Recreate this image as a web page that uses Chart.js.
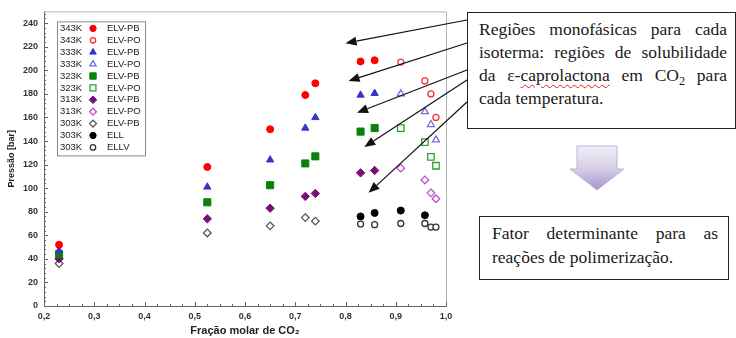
<!DOCTYPE html>
<html lang="pt">
<head>
<meta charset="utf-8">
<script src="https://cdn.jsdelivr.net/npm/chart.js@4.4.1/dist/chart.umd.min.js"></script>
<style>
body { margin: 0; background: #fff; }
#wrap { position: relative; width: 736px; height: 338px; overflow: hidden; }
#wrap canvas { position: absolute; left: 0; top: 0; }
.note { position: absolute; box-sizing: border-box; background: #fff; border: 1.5px solid #222;
  font-family: "Liberation Serif", "DejaVu Serif", serif; font-size: 17.5px; color: #1a1a1a; }
.note div { text-align: justify; text-align-last: justify; }
.note div.last { text-align: left; text-align-last: left; }
#note1 { left: 467px; top: 12px; width: 269px; height: 117px; padding: 5px 8px 0 11px; line-height: 23px; }
#note2 { left: 479px; top: 216px; width: 250px; height: 64px; padding: 4px 10px 0 12px; line-height: 24px; }
.typo { text-decoration: underline wavy #e02020; text-decoration-thickness: 1px; text-underline-offset: 3px; }
sub { font-size: 0.7em; line-height: 0; vertical-align: -0.3em; }
#down { position: absolute; left: 566px; top: 144px; }
</style>
</head>
<body>
<div id="wrap">
  <canvas id="myChart" width="736" height="338"></canvas>
  <div class="note" id="note1">
    <div>Regiões monofásicas para cada</div>
    <div>isoterma: regiões de solubilidade</div>
    <div>da ε-<span class="typo">caprolactona</span> em CO<sub>2</sub> para</div>
    <div class="last">cada temperatura.</div>
  </div>
  <svg id="down" width="62" height="50">
    <defs>
      <linearGradient id="lav" x1="0" y1="0" x2="0" y2="1">
        <stop offset="0" stop-color="#f3eff8"/>
        <stop offset="0.55" stop-color="#d3cbe6"/>
        <stop offset="1" stop-color="#a396c6"/>
      </linearGradient>
    </defs>
    <polygon points="11,2 51,2 51,25 58,25 31,46 4,25 11,25" fill="url(#lav)" stroke="#bdb3d8" stroke-width="1"/>
  </svg>
  <div class="note" id="note2">
    <div>Fator determinante para as</div>
    <div class="last">reações de polimerização.</div>
  </div>
</div>

<script>
'use strict'

// axis ticks
var pressaoTicks = [0, 20, 40, 60, 80, 100, 120, 140, 160, 180, 200, 220, 240];
var fracaoTicks = [0.2, 0.3, 0.4, 0.5, 0.6, 0.7, 0.8, 0.9, 1.0];

// legend text
var temps = ['343K', '343K', '333K', '333K', '323K', '323K', '313K', '313K', '303K', '303K', '303K'];
var tipos = ['ELV-PB', 'ELV-PO', 'ELV-PB', 'ELV-PO', 'ELV-PB', 'ELV-PO', 'ELV-PB', 'ELV-PO', 'ELV-PB', 'ELL', 'ELLV'];

// fracao molar de CO2
var xPB = [0.23, 0.525, 0.65, 0.72, 0.74, 0.83, 0.858];
var xPO = [0.91, 0.958, 0.97, 0.98];
var x303PB = [0.23, 0.525, 0.65, 0.72, 0.74];
var x303ELL = [0.83, 0.858, 0.91, 0.958];
var x303ELLV = [0.83, 0.858, 0.91, 0.958, 0.97, 0.98];

// pressao [bar]
var p343PB = [52, 118, 150, 179, 189, 207.5, 208.5];
var p343PO = [207, 191, 180, 160];
var p333PB = [47, 101, 124, 151, 160, 179, 180.5];
var p333PO = [180, 165, 154, 141];
var p323PB = [44, 88, 102.5, 121, 127, 148, 151];
var p323PO = [151, 139, 126.5, 119];
var p313PB = [40, 74, 83, 93, 95.5, 113, 115];
var p313PO = [117, 107, 96, 91];
var p303PB = [36, 62, 68, 75, 72];
var p303ELL = [76, 79, 81, 77];
var p303ELLV = [69.5, 69, 70, 70, 67, 67];

// arrow tips (data units)
var setaX = [0.800, 0.806, 0.823, 0.8375, 0.846];
var setaY = [223, 191, 164, 135, 96];

var xs = [xPB, xPO, xPB, xPO, xPB, xPO, xPB, xPO, x303PB, x303ELL, x303ELLV];
var ys = [p343PB, p343PO, p333PB, p333PO, p323PB, p323PO, p313PB, p313PO, p303PB, p303ELL, p303ELLV];

var estilos = [
  {color: '#ff0000', style: 'circle', fill: true, r: 3.5},
  {color: '#ff3030', style: 'circle', fill: false, r: 3},
  {color: '#3535c8', style: 'triangle', fill: true, r: 4.2},
  {color: '#6f6fd8', style: 'triangle', fill: false, r: 4},
  {color: '#0a820a', style: 'rect', fill: true, r: 5},
  {color: '#2ea02e', style: 'rect', fill: false, r: 4.6},
  {color: '#7a0f7a', style: 'rectRot', fill: true, r: 4.2},
  {color: '#c050c8', style: 'rectRot', fill: false, r: 3.8},
  {color: '#555555', style: 'rectRot', fill: false, r: 3.8},
  {color: '#000000', style: 'circle', fill: true, r: 3.5},
  {color: '#333333', style: 'circle', fill: false, r: 3}
];

function pts(xv, yv) {
  return xv.map(function(x, i) { return {x: x, y: yv[i]}; });
}

var datasets = estilos.map(function(s, i) {
  return {
    label: temps[i] + ' ' + tipos[i],
    data: pts(xs[i], ys[i]),
    showLine: false,
    pointStyle: s.style,
    pointRadius: s.r,
    pointHoverRadius: s.r,
    pointBackgroundColor: s.fill ? s.color : '#ffffff',
    pointBorderColor: s.color,
    pointBorderWidth: s.fill ? 1 : 1.3
  };
});

function marcador(ctx, s, x, y) {
  ctx.fillStyle = s.fill ? s.color : '#ffffff';
  ctx.strokeStyle = s.color;
  ctx.lineWidth = s.fill ? 1 : 1.3;
  if (Chart.helpers && Chart.helpers.drawPoint) {
    Chart.helpers.drawPoint(ctx, {pointStyle: s.style, radius: s.r * 0.9, rotation: 0, borderWidth: ctx.lineWidth}, x, y);
  } else {
    ctx.beginPath(); ctx.arc(x, y, s.r, 0, Math.PI * 2); ctx.fill(); ctx.stroke();
  }
}

var decor = {
  id: 'decor',
  beforeDatasetsDraw: function(chart) {
    var ctx = chart.ctx, a = chart.chartArea, sx = chart.scales.x, sy = chart.scales.y;
    ctx.save();
    ctx.strokeStyle = '#b4b4b4';
    ctx.lineWidth = 1;
    ctx.beginPath();
    ctx.moveTo(a.left, a.top + 0.5);
    ctx.lineTo(a.right + 0.5, a.top + 0.5);
    ctx.lineTo(a.right + 0.5, a.bottom);
    ctx.stroke();

    // small inside ticks
    ctx.strokeStyle = '#666';
    ctx.beginPath();
    for (var v = 0; v <= 248; v += 4) {
      var py = Math.round(sy.getPixelForValue(v)) + 0.5;
      ctx.moveTo(a.left, py);
      ctx.lineTo(a.left + (v % 20 === 0 ? 4 : 2), py);
    }
    for (var k = 0; k <= 32; k++) {
      var px = Math.round(sx.getPixelForValue(0.2 + k * 0.025)) + 0.5;
      ctx.moveTo(px, a.bottom);
      ctx.lineTo(px, a.bottom - (k % 4 === 0 ? 4 : 2));
    }
    ctx.stroke();
    ctx.restore();
  },
  afterDatasetsDraw: function(chart) {
    var ctx = chart.ctx, a = chart.chartArea;
    var left = a.left + 13, top = a.top + 10;
    ctx.save();
    ctx.fillStyle = '#fff';
    ctx.fillRect(left, top, 88, 134);
    ctx.strokeStyle = '#8a8a8a';
    ctx.lineWidth = 1;
    ctx.strokeRect(left + 0.5, top + 0.5, 88, 134);
    ctx.font = '9.5px "Liberation Sans", Arial, sans-serif';
    ctx.textBaseline = 'middle';
    for (var i = 0; i < temps.length; i++) {
      var y = top + 7 + i * 11.9;
      ctx.fillStyle = '#222';
      ctx.fillText(temps[i], left + 3, y);
      ctx.fillText(tipos[i], left + 50, y);
      marcador(ctx, estilos[i], left + 36, y);
    }
    ctx.restore();
  },
  afterDraw: function(chart) {
    var ctx = chart.ctx, sx = chart.scales.x, sy = chart.scales.y;
    var startY = [20, 43, 70, 80, 102];
    ctx.save();
    ctx.strokeStyle = '#111';
    ctx.fillStyle = '#111';
    ctx.lineWidth = 1.2;
    for (var i = 0; i < setaX.length; i++) {
      var x0 = 467, y0 = startY[i];
      var x1 = sx.getPixelForValue(setaX[i]), y1 = sy.getPixelForValue(setaY[i]);
      var ang = Math.atan2(y1 - y0, x1 - x0);
      var bx = x1 - 11 * Math.cos(ang), by = y1 - 11 * Math.sin(ang);
      ctx.beginPath();
      ctx.moveTo(x0, y0);
      ctx.lineTo(bx, by);
      ctx.stroke();
      ctx.beginPath();
      ctx.moveTo(x1, y1);
      ctx.lineTo(bx + 4.5 * Math.sin(ang), by - 4.5 * Math.cos(ang));
      ctx.lineTo(bx - 4.5 * Math.sin(ang), by + 4.5 * Math.cos(ang));
      ctx.closePath();
      ctx.fill();
    }
    ctx.restore();
  }
};

Chart.defaults.font.family = '"Liberation Sans", Arial, sans-serif';

var ctx = document.getElementById('myChart');

var scatter = new Chart(ctx, {
  type: 'scatter',
  data: { datasets: datasets },
  plugins: [decor],
  options: {
    responsive: false,
    animation: false,
    layout: { padding: { top: 11, right: 290, left: 0, bottom: 0 } },
    plugins: { legend: { display: false }, tooltip: { enabled: false } },
    scales: {
      x: {
        type: 'linear',
        min: 0.2,
        max: 1.0,
        afterBuildTicks: function(scale) {
          scale.ticks = fracaoTicks.map(function(v) { return {value: v}; });
        },
        afterFit: function(scale) { scale.height = 32; },
        grid: { drawOnChartArea: false, drawTicks: false },
        border: { display: true, color: '#666', width: 1 },
        ticks: {
          padding: 5,
          color: '#333',
          maxRotation: 0,
          autoSkip: false,
          font: { size: 9, weight: 'bold' },
          callback: function(v) { return v.toFixed(1).replace('.', ','); }
        },
        title: {
          display: true,
          text: 'Fração molar de CO₂',
          color: '#222',
          padding: 0,
          font: { size: 11, weight: 'bold' }
        }
      },
      y: {
        min: 0,
        max: 250,
        afterBuildTicks: function(scale) {
          scale.ticks = pressaoTicks.map(function(v) { return {value: v}; });
        },
        afterFit: function(scale) { scale.width = 44; },
        grid: { drawOnChartArea: false, drawTicks: false },
        border: { display: true, color: '#666', width: 1 },
        ticks: {
          padding: 6,
          color: '#333',
          autoSkip: false,
          font: { size: 9, weight: 'bold' }
        },
        title: {
          display: true,
          text: 'Pressão [bar]',
          color: '#222',
          padding: { top: 6, bottom: 0 },
          font: { size: 9, weight: 'bold' }
        }
      }
    }
  }
});
</script>
</body>
</html>
